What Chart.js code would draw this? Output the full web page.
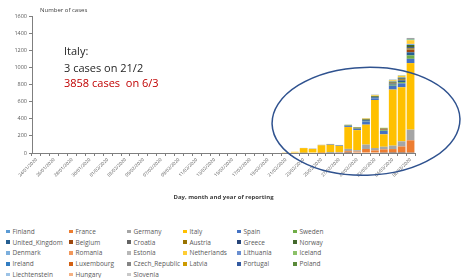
<!DOCTYPE html>
<html>
<head>
<meta charset="utf-8">
<script src="https://cdn.jsdelivr.net/npm/chart.js@4.4.1/dist/chart.umd.min.js"></script>
<style>
  body { margin: 0; background: #fff; }
  #wrap { position: relative; width: 461px; height: 278px; overflow: hidden; }
  #chartBox { position: absolute; left: 0; top: 0; width: 461px; height: 205px; }
  #legend {
    position: absolute; left: 6px; top: 226px;
    display: grid; grid-template-columns: 63px 58px 56px 54px 56px 56px;
    grid-auto-rows: 10.8px;
    font: 6.5px "Open Sans", sans-serif; color: #595959;
  }
  #legend span { display: flex; align-items: center; white-space: nowrap; }
  #legend i { display: inline-block; width: 3.5px; height: 3.5px; margin-right: 3px; }
</style>
</head>
<body>
<div id="wrap">
  <div id="chartBox"><canvas id="casesChart"></canvas></div>
  <div id="legend"></div>
</div>
<script>
const days = [
  '24/01/2020','25/01/2020','26/01/2020','27/01/2020','28/01/2020','29/01/2020','30/01/2020','31/01/2020',
  '01/02/2020','02/02/2020','03/02/2020','04/02/2020','05/02/2020','06/02/2020','07/02/2020','08/02/2020',
  '09/02/2020','10/02/2020','11/02/2020','12/02/2020','13/02/2020','14/02/2020','15/02/2020','16/02/2020',
  '17/02/2020','18/02/2020','19/02/2020','20/02/2020','21/02/2020','22/02/2020','23/02/2020','24/02/2020',
  '25/02/2020','26/02/2020','27/02/2020','28/02/2020','29/02/2020','01/03/2020','02/03/2020','03/03/2020',
  '04/03/2020','05/03/2020','06/03/2020'
];

const yTicks = [0, 200, 400, 600, 800, 1000, 1200, 1400, 1600];

// daily cases by date of reporting, one list per country (24/01 .. 06/03)
const finland       = [0,0,0,0,0,0,0,0,0,0, 0,0,0,0,0,0,0,0,0,0, 0,0,0,0,0,0,0,0, 0,0,0,0,0,1,0,1,0,0,0,3,1,1,3];
const france        = [0,0,0,0,0,0,0,0,0,0, 0,0,0,0,0,0,0,0,0,0, 0,0,0,0,0,0,0,0, 0,0,0,0,2,2,4,20,16,47,30,39,45,75,145];
const germany       = [0,0,0,0,0,0,0,0,0,0, 0,0,0,0,0,0,0,0,0,0, 0,0,0,0,0,0,0,0, 0,0,2,0,1,4,8,27,16,51,28,31,40,60,125];
const italy         = [0,0,0,0,0,0,0,0,0,0, 0,0,0,0,0,0,0,0,0,0, 0,0,0,0,0,0,0,0, 3,14,55,48,87,88,70,255,235,233,561,145,655,632,777];
const spain         = [0,0,0,0,0,0,0,0,0,0, 0,0,0,0,0,0,0,0,0,0, 0,0,0,0,0,0,0,0, 0,0,2,2,2,4,4,11,13,36,19,39,45,45,50];
const sweden        = [0,0,0,0,0,0,0,0,0,0, 0,0,0,0,0,0,0,0,0,0, 0,0,0,0,0,0,0,0, 0,0,0,0,0,1,1,5,2,3,1,7,12,15,40];
const unitedKingdom = [0,0,0,0,0,0,0,0,0,0, 0,0,0,0,0,0,0,0,0,0, 0,0,0,0,0,0,0,0, 0,0,0,0,0,0,0,4,3,13,12,4,12,20,36];
const belgium       = [0,0,0,0,0,0,0,0,0,0, 0,0,0,0,0,0,0,0,0,0, 0,0,0,0,0,0,0,0, 0,0,0,0,0,0,0,0,0,0,1,6,5,5,30];
const croatia       = [0,0,0,0,0,0,0,0,0,0, 0,0,0,0,0,0,0,0,0,0, 0,0,0,0,0,0,0,0, 0,0,0,1,1,2,1,2,0,1,0,0,0,0,2];
const austria       = [0,0,0,0,0,0,0,0,0,0, 0,0,0,0,0,0,0,0,0,0, 0,0,0,0,0,0,0,0, 0,0,0,0,2,1,1,2,4,4,4,3,5,8,14];
const greece        = [0,0,0,0,0,0,0,0,0,0, 0,0,0,0,0,0,0,0,0,0, 0,0,0,0,0,0,0,0, 0,0,0,0,0,1,2,0,3,0,0,2,2,8,14];
const norway        = [0,0,0,0,0,0,0,0,0,0, 0,0,0,0,0,0,0,0,0,0, 0,0,0,0,0,0,0,0, 0,0,0,0,0,1,0,1,5,8,9,7,11,11,25];
const denmark       = [0,0,0,0,0,0,0,0,0,0, 0,0,0,0,0,0,0,0,0,0, 0,0,0,0,0,0,0,0, 0,0,0,0,0,0,1,0,1,0,1,0,5,5,12];
const romania       = [0,0,0,0,0,0,0,0,0,0, 0,0,0,0,0,0,0,0,0,0, 0,0,0,0,0,0,0,0, 0,0,0,0,0,1,0,0,0,0,0,1,1,0,2];
const estonia       = [0,0,0,0,0,0,0,0,0,0, 0,0,0,0,0,0,0,0,0,0, 0,0,0,0,0,0,0,0, 0,0,0,0,0,0,1,0,0,0,0,0,0,0,0];
const netherlands   = [0,0,0,0,0,0,0,0,0,0, 0,0,0,0,0,0,0,0,0,0, 0,0,0,0,0,0,0,0, 0,0,0,0,0,0,1,1,5,7,8,6,10,15,42];
const lithuania     = [0,0,0,0,0,0,0,0,0,0, 0,0,0,0,0,0,0,0,0,0, 0,0,0,0,0,0,0,0, 0,0,0,0,0,0,0,1,0,0,0,0,0,0,0];
const iceland       = [0,0,0,0,0,0,0,0,0,0, 0,0,0,0,0,0,0,0,0,0, 0,0,0,0,0,0,0,0, 0,0,0,0,0,0,0,1,0,1,3,2,4,4,9];
const ireland       = [0,0,0,0,0,0,0,0,0,0, 0,0,0,0,0,0,0,0,0,0, 0,0,0,0,0,0,0,0, 0,0,0,0,0,0,0,0,0,1,0,0,0,0,5];
const luxembourg    = [0,0,0,0,0,0,0,0,0,0, 0,0,0,0,0,0,0,0,0,0, 0,0,0,0,0,0,0,0, 0,0,0,0,0,0,0,0,1,0,0,0,0,0,1];
const czechRepublic = [0,0,0,0,0,0,0,0,0,0, 0,0,0,0,0,0,0,0,0,0, 0,0,0,0,0,0,0,0, 0,0,0,0,0,0,0,0,0,3,0,0,0,2,4];
const latvia        = [0,0,0,0,0,0,0,0,0,0, 0,0,0,0,0,0,0,0,0,0, 0,0,0,0,0,0,0,0, 0,0,0,0,0,0,0,0,0,0,1,0,0,0,0];
const portugal      = [0,0,0,0,0,0,0,0,0,0, 0,0,0,0,0,0,0,0,0,0, 0,0,0,0,0,0,0,0, 0,0,0,0,0,0,0,0,0,0,2,0,2,0,4];
const poland        = [0,0,0,0,0,0,0,0,0,0, 0,0,0,0,0,0,0,0,0,0, 0,0,0,0,0,0,0,0, 0,0,0,0,0,0,0,0,0,0,0,0,1,0,1];
const liechtenstein = [0,0,0,0,0,0,0,0,0,0, 0,0,0,0,0,0,0,0,0,0, 0,0,0,0,0,0,0,0, 0,0,0,0,0,0,0,0,0,0,0,0,0,1,0];
const hungary       = [0,0,0,0,0,0,0,0,0,0, 0,0,0,0,0,0,0,0,0,0, 0,0,0,0,0,0,0,0, 0,0,0,0,0,0,0,0,0,0,0,0,0,0,2];
const slovenia      = [0,0,0,0,0,0,0,0,0,0, 0,0,0,0,0,0,0,0,0,0, 0,0,0,0,0,0,0,0, 0,0,0,0,0,0,0,0,0,0,0,0,0,1,1];

const countries = [
  'Finland','France','Germany','Italy','Spain','Sweden',
  'United_Kingdom','Belgium','Croatia','Austria','Greece','Norway',
  'Denmark','Romania','Estonia','Netherlands','Lithuania','Iceland',
  'Ireland','Luxembourg','Czech_Republic','Latvia','Portugal','Poland',
  'Liechtenstein','Hungary','Slovenia'
];
const series = [
  finland, france, germany, italy, spain, sweden,
  unitedKingdom, belgium, croatia, austria, greece, norway,
  denmark, romania, estonia, netherlands, lithuania, iceland,
  ireland, luxembourg, czechRepublic, latvia, portugal, poland,
  liechtenstein, hungary, slovenia
];
const colors = [
  '#5B9BD5','#ED7D31','#A5A5A5','#FFC000','#4472C4','#70AD47',
  '#255E91','#9E480E','#636363','#997300','#264478','#43682B',
  '#7CAFDD','#F1975A','#B7B7B7','#FFCD33','#698ED0','#8CC168',
  '#327DC2','#D26012','#848484','#CC9A00','#335AA1','#5A8A39',
  '#9DC3E6','#F4B183','#C9C9C9'
];

const axisColor = '#7f7f7f';

// text box and ellipse drawn on top of the bars
const notes = {
  id: 'notes',
  afterDraw(chart) {
    const ctx = chart.ctx;
    const x = chart.scales.x, y = chart.scales.y;
    const left = chart.chartArea.left;
    ctx.save();
    ctx.fillStyle = '#404040';
    ctx.font = '6px "Open Sans", sans-serif';
    ctx.textBaseline = 'middle';
    ctx.fillText('Number of cases', left + 8, 10);

    ctx.textBaseline = 'alphabetic';
    ctx.font = '11px "Open Sans", sans-serif';
    ctx.fillStyle = '#262626';
    ctx.fillText('Italy:', left + 32, 55);
    ctx.fillText('3 cases on 21/2', left + 32, 72);
    ctx.fillStyle = '#C00000';
    ctx.fillText('3858 cases  on 6/3', left + 32, 87);

    const step = x.getPixelForValue(1) - x.getPixelForValue(0);
    const cx = x.getPixelForValue(37);
    const cy = y.getPixelForValue(370);
    const ry = y.getPixelForValue(0) - y.getPixelForValue(630);
    ctx.beginPath();
    ctx.ellipse(cx, cy, step * 10.55, ry, -0.03, 0, Math.PI * 2);
    ctx.strokeStyle = '#2F528F';
    ctx.lineWidth = 1.5;
    ctx.stroke();
    ctx.restore();
  }
};

const ctx = document.getElementById('casesChart').getContext('2d');
const casesChart = new Chart(ctx, {
  type: 'bar',
  data: {
    labels: days,
    datasets: countries.map((name, i) => ({
      label: name,
      data: series[i],
      backgroundColor: colors[i],
      borderWidth: 0,
      barPercentage: 0.87,
      categoryPercentage: 1
    }))
  },
  options: {
    responsive: true,
    maintainAspectRatio: false,
    animation: false,
    layout: { padding: { top: 16, right: 46, left: 0, bottom: 0 } },
    plugins: {
      legend: { display: false },
      tooltip: { enabled: false }
    },
    scales: {
      x: {
        stacked: true,
        grid: { drawOnChartArea: false, tickLength: 3, color: axisColor },
        border: { color: axisColor },
        ticks: {
          autoSkip: false,
          minRotation: 45,
          maxRotation: 45,
          padding: 1,
          color: '#595959',
          font: { size: 4.6, family: '"Open Sans", sans-serif' },
          callback: function(value, index) {
            return index % 2 === 0 ? this.getLabelForValue(value) : '';
          }
        },
        title: {
          display: true,
          text: 'Day, month and year of reporting',
          color: '#404040',
          font: { size: 6, weight: 'bold', family: '"Open Sans", sans-serif' },
          padding: { top: 0, bottom: 4 }
        },
        afterFit: s => { s.height = 52; }
      },
      y: {
        stacked: true,
        min: 0,
        max: 1600,
        afterBuildTicks: s => { s.ticks = yTicks.map(v => ({ value: v })); },
        grid: { drawOnChartArea: false, tickLength: 3, color: axisColor },
        border: { color: axisColor },
        ticks: {
          padding: 2,
          color: '#595959',
          font: { size: 5.5, family: '"Open Sans", sans-serif' },
          callback: v => String(v)
        },
        afterFit: s => { s.width = 32; }
      }
    }
  },
  plugins: [notes]
});

// legend in the same row order as the datasets
const legendBox = document.getElementById('legend');
casesChart.data.datasets.forEach(ds => {
  const item = document.createElement('span');
  item.innerHTML = `<i style="background:${ds.backgroundColor}"></i>${ds.label}`;
  legendBox.appendChild(item);
});
</script>
</body>
</html>
